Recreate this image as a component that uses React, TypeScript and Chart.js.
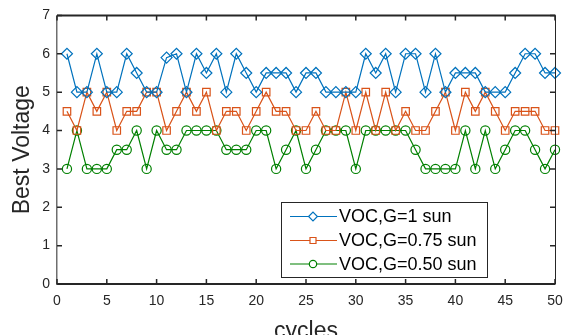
import React, { useEffect, useRef } from "react";
import { Chart, registerables } from "chart.js";

Chart.register(...registerables);

const cycles = [
  1, 2, 3, 4, 5, 6, 7, 8, 9, 10, 11, 12, 13, 14, 15, 16, 17, 18, 19, 20, 21, 22, 23, 24, 25,
  26, 27, 28, 29, 30, 31, 32, 33, 34, 35, 36, 37, 38, 39, 40, 41, 42, 43, 44, 45, 46, 47, 48, 49, 50,
];

const voc1Sun = [
  6, 5, 5, 6, 5, 5, 6, 5.5, 5, 5, 5.9, 6, 5, 6, 5.5, 6, 5, 6, 5.5, 5, 5.5, 5.5, 5.5, 5, 5.5,
  5.5, 5, 5, 5, 5, 6, 5.5, 6, 5, 6, 6, 5, 6, 5, 5.5, 5.5, 5.5, 5, 5, 5, 5.5, 6, 6, 5.5, 5.5,
];

const voc075Sun = [
  4.5, 4, 5, 4.5, 5, 4, 4.5, 4.5, 5, 5, 4, 4.5, 5, 4.5, 5, 4, 4.5, 4.5, 4, 4.5, 5, 4.5, 4.5, 4, 4,
  4.5, 4, 4, 5, 4, 5, 4, 5, 4, 4.5, 4, 4, 4.5, 5, 4, 5, 4.5, 5, 4.5, 4, 4.5, 4.5, 4.5, 4, 4,
];

const voc050Sun = [
  3, 4, 3, 3, 3, 3.5, 3.5, 4, 3, 4, 3.5, 3.5, 4, 4, 4, 4, 3.5, 3.5, 3.5, 4, 4, 3, 3.5, 4, 3,
  3.5, 4, 4, 4, 3, 4, 4, 4, 4, 4, 3.5, 3, 3, 3, 3, 4, 3, 4, 3, 3.5, 4, 4, 3.5, 3, 3.5,
];

const xTicks = [0, 5, 10, 15, 20, 25, 30, 35, 40, 45, 50];
const yTicks = [0, 1, 2, 3, 4, 5, 6, 7];
const seriesLabels = ["VOC,G=1 sun", "VOC,G=0.75 sun", "VOC,G=0.50 sun"];
const xTitle = "cycles";
const yTitle = "Best Voltage";

export default function App() {
  const ref = useRef<HTMLCanvasElement>(null);

  useEffect(() => {
    document.body.style.margin = "0";
    const canvas = ref.current;
    if (!canvas) return;
    const family = "'Liberation Sans', Arial, Helvetica, sans-serif";
    const axisColor = "#262626";
    const colors = ["#0072BD", "#D95319", "#008000"];
    const styles: any[] = ["rectRot", "rect", "circle"];
    const radii = [5.5, 5.3, 4.6];
    const series = [voc1Sun, voc075Sun, voc050Sun];

    const boxPlugin = {
      id: "matlabBox",
      afterDraw(chart: any) {
        const { ctx, chartArea } = chart;
        const { left, right, top, bottom } = chartArea;
        const xs = chart.scales.x;
        const ys = chart.scales.y;
        ctx.save();
        // box
        ctx.strokeStyle = axisColor;
        ctx.lineWidth = 2;
        ctx.beginPath();
        ctx.moveTo(left, top);
        ctx.lineTo(right + 0.5, top);
        ctx.moveTo(left, bottom);
        ctx.lineTo(right + 0.5, bottom);
        ctx.stroke();
        ctx.lineWidth = 1;
        ctx.beginPath();
        ctx.moveTo(Math.round(right) + 0.5, top);
        ctx.lineTo(Math.round(right) + 0.5, bottom);
        ctx.stroke();
        ctx.strokeStyle = "#6e6e6e";
        ctx.lineWidth = 1.5;
        ctx.beginPath();
        ctx.moveTo(Math.round(left) - 0.25, top);
        ctx.lineTo(Math.round(left) - 0.25, bottom + 1);
        ctx.stroke();
        // inward ticks
        ctx.strokeStyle = axisColor;
        ctx.lineWidth = 1.5;
        ctx.beginPath();
        const tl = 5;
        xTicks.forEach((v) => {
          const px = xs.getPixelForValue(v);
          ctx.moveTo(px, bottom);
          ctx.lineTo(px, bottom - tl);
          ctx.moveTo(px, top);
          ctx.lineTo(px, top + tl);
        });
        yTicks.forEach((v) => {
          const py = ys.getPixelForValue(v);
          ctx.moveTo(left, py);
          ctx.lineTo(left + tl, py);
          ctx.moveTo(right, py);
          ctx.lineTo(right - tl, py);
        });
        ctx.stroke();

        // axis titles
        ctx.fillStyle = axisColor;
        ctx.font = `23px ${family}`;
        ctx.textAlign = "center";
        ctx.textBaseline = "alphabetic";
        ctx.fillText(xTitle, (left + right) / 2, 338);
        ctx.save();
        ctx.translate(23, (top + bottom) / 2);
        ctx.rotate(-Math.PI / 2);
        ctx.textBaseline = "middle";
        ctx.fillText(yTitle, 0, 0);
        ctx.restore();

        // legend
        const lx = 281.5, ly = 202.5, lw = 206, lh = 75;
        ctx.fillStyle = "#ffffff";
        ctx.fillRect(lx, ly, lw, lh);
        ctx.strokeStyle = axisColor;
        ctx.lineWidth = 1;
        ctx.strokeRect(lx, ly, lw, lh);
        const rowY = [216.5, 240.5, 264];
        ctx.font = `18px ${family}`;
        ctx.textAlign = "left";
        ctx.textBaseline = "middle";
        seriesLabels.forEach((label, i) => {
          const y = rowY[i];
          ctx.strokeStyle = colors[i];
          ctx.lineWidth = 1.2;
          ctx.beginPath();
          ctx.moveTo(290, y);
          ctx.lineTo(337, y);
          ctx.stroke();
          ctx.fillStyle = "#ffffff";
          const r = radii[i] * 0.8;
          ctx.beginPath();
          if (i === 0) {
            ctx.moveTo(313 - r, y);
            ctx.lineTo(313, y - r);
            ctx.lineTo(313 + r, y);
            ctx.lineTo(313, y + r);
            ctx.closePath();
          } else if (i === 1) {
            const h = r * Math.SQRT1_2;
            ctx.rect(313 - h, y - h, 2 * h, 2 * h);
          } else {
            ctx.arc(313, y, r, 0, Math.PI * 2);
          }
          ctx.fill();
          ctx.stroke();
          ctx.fillStyle = "#000000";
          ctx.fillText(label, 339, y + 1);
        });
        ctx.restore();
      },
    };

    const chart = new Chart(canvas, {
      type: "line",
      data: {
        datasets: series.map((s, i) => ({
          label: seriesLabels[i],
          data: s.map((v, j) => ({ x: cycles[j], y: v })),
          borderColor: colors[i],
          backgroundColor: "rgba(0,0,0,0)",
          borderWidth: 1.2,
          pointStyle: styles[i],
          pointRadius: radii[i],
          pointBorderColor: colors[i],
          pointBackgroundColor: "rgba(0,0,0,0)",
          pointBorderWidth: 1.2,
          tension: 0,
          clip: false as any,
        })),
      },
      options: {
        responsive: false,
        animation: false,
        layout: { padding: { top: 15, right: 0, left: 0, bottom: 0 } },
        plugins: { legend: { display: false }, tooltip: { enabled: false } },
        scales: {
          x: {
            type: "linear",
            min: 0,
            max: 50,
            afterBuildTicks: (s: any) => {
              s.ticks = xTicks.map((v) => ({ value: v }));
            },
            afterFit: (s: any) => {
              s.height = 51;
              s.paddingRight = 8;
              s.paddingLeft = 0;
            },
            grid: { display: false, drawTicks: false },
            border: { display: false },
            ticks: {
              padding: 9,
              color: axisColor,
              font: { family, size: 14 },
              maxRotation: 0,
              autoSkip: false,
            },
          },
          y: {
            type: "linear",
            min: 0,
            max: 7,
            afterBuildTicks: (s: any) => {
              s.ticks = yTicks.map((v) => ({ value: v }));
            },
            afterFit: (s: any) => {
              s.width = 57;
            },
            grid: { display: false, drawTicks: false },
            border: { display: false },
            ticks: {
              padding: 7,
              color: axisColor,
              font: { family, size: 14 },
              autoSkip: false,
            },
          },
        },
      },
      plugins: [boxPlugin],
    });
    return () => chart.destroy();
  }, []);

  return (
    <div style={{ width: 563, height: 335 }}>
      <canvas ref={ref} width={563} height={335} style={{ display: "block" }} />
    </div>
  );
}
